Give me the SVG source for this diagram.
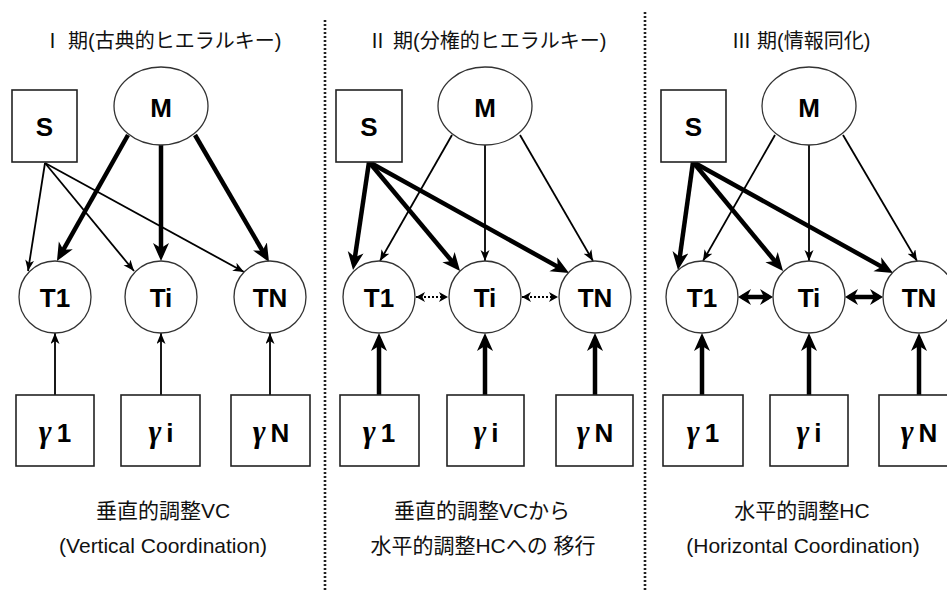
<svg xmlns="http://www.w3.org/2000/svg" width="947" height="590" viewBox="0 0 947 590">
<style>
  .box{fill:#fff;stroke:#222;stroke-width:1.6}
  .ell{fill:#fff;stroke:#333;stroke-width:1.3}
  .lbl{font-family:"Liberation Sans","Noto Sans CJK JP",sans-serif;font-weight:bold;font-size:26px;fill:#000;text-anchor:middle}
  .gam{font-family:"Liberation Serif","DejaVu Serif",serif;font-style:italic;font-weight:bold;font-size:31px}
  .ttl{font-family:"Liberation Sans","Noto Sans CJK JP",sans-serif;font-size:20px;fill:#111;text-anchor:middle}
  .cap{font-family:"Liberation Sans","Noto Sans CJK JP",sans-serif;font-size:21px;fill:#111;text-anchor:middle}
  .thin{stroke:#000;stroke-width:1.8;fill:none;marker-end:url(#aThin)}
  .thick{stroke:#000;stroke-width:4.5;fill:none;marker-end:url(#aThick)}
  .dot{stroke:#000;stroke-width:2;stroke-dasharray:2 2;fill:none;marker-start:url(#aDot);marker-end:url(#aDot)}
  .dbl{stroke:#000;stroke-width:4.5;fill:none;marker-start:url(#aMid);marker-end:url(#aMid)}
  .div{stroke:#222;stroke-width:2.6;stroke-dasharray:2 2;fill:none}
</style>
<defs>
  <marker id="aThin" markerUnits="userSpaceOnUse" markerWidth="12" markerHeight="10" refX="11" refY="4.5" orient="auto">
    <path d="M0,0 L11,4.5 L0,9 L3,4.5 z" fill="#000"/>
  </marker>
  <marker id="aThick" markerUnits="userSpaceOnUse" markerWidth="19" markerHeight="17" refX="12" refY="8" orient="auto">
    <path d="M0,0 L18,8 L0,16 L5,8 z" fill="#000"/>
  </marker>
  <marker id="aMid" markerUnits="userSpaceOnUse" markerWidth="14" markerHeight="17" refX="9" refY="8" orient="auto-start-reverse">
    <path d="M0,0 L13,8 L0,16 L4,8 z" fill="#000"/>
  </marker>
  <marker id="aDot" markerUnits="userSpaceOnUse" markerWidth="10" markerHeight="11" refX="9" refY="5" orient="auto-start-reverse">
    <path d="M0,0 L9,5 L0,10 L2.5,5 z" fill="#000"/>
  </marker>
</defs>
<rect x="0" y="0" width="947" height="590" fill="#fff"/>

<!-- dividers -->
<g id="dividers">
  <line class="div" x1="325" y1="20" x2="325" y2="590"/>
  <line class="div" x1="645" y1="12" x2="645" y2="590"/>
</g>

<!-- titles and captions -->
<g id="texts">
  <text class="ttl" x="162" y="48">Ⅰ 期(古典的ヒエラルキー)</text>
  <text class="ttl" x="487" y="48">Ⅱ 期(分権的ヒエラルキー)</text>
  <text class="ttl" x="801" y="48">Ⅲ 期(情報同化)</text>
  <text class="cap" x="163" y="518">垂直的調整VC</text>
  <text class="cap" x="163" y="553">(Vertical Coordination)</text>
  <text class="cap" x="482" y="518">垂直的調整VCから</text>
  <text class="cap" x="483" y="553">水平的調整HCへの 移行</text>
  <text class="cap" x="802" y="518">水平的調整HC</text>
  <text class="cap" x="803" y="553">(Horizontal Coordination)</text>
</g>

<!-- connectors -->
<g id="connectors">
  <!-- panel 1 -->
  <line class="thin" x1="45" y1="163" x2="28" y2="271"/>
  <line class="thin" x1="45" y1="163" x2="134" y2="271"/>
  <line class="thin" x1="45" y1="163" x2="244" y2="272"/>
  <line class="thick" x1="128" y1="135" x2="59.9" y2="255.8"/>
  <line class="thick" x1="161" y1="145" x2="161" y2="255"/>
  <line class="thick" x1="195" y1="135" x2="266" y2="256.8"/>
  <line class="thin" x1="55" y1="395" x2="55" y2="333"/>
  <line class="thin" x1="161" y1="395" x2="161" y2="333"/>
  <line class="thin" x1="270" y1="395" x2="270" y2="333"/>
  <!-- panel 2 -->
  <line class="thick" x1="369" y1="162" x2="353.9" y2="264.1"/>
  <line class="thick" x1="369" y1="162" x2="456.2" y2="266.4"/>
  <line class="thick" x1="369" y1="162" x2="563.8" y2="270.1"/>
  <line class="thin" x1="452" y1="135" x2="380" y2="261"/>
  <line class="thin" x1="485" y1="145" x2="485" y2="261"/>
  <line class="thin" x1="520" y1="135" x2="593" y2="261"/>
  <line class="thick" x1="379" y1="395" x2="379" y2="339"/>
  <line class="thick" x1="485" y1="395" x2="485" y2="339"/>
  <line class="thick" x1="595" y1="395" x2="595" y2="339"/>
  <line class="dot" x1="416" y1="297" x2="448" y2="297"/>
  <line class="dot" x1="522" y1="297" x2="558" y2="297"/>
  <!-- panel 3 -->
  <line class="thick" x1="693" y1="162" x2="678.8" y2="264.1"/>
  <line class="thick" x1="693" y1="162" x2="779.2" y2="266.4"/>
  <line class="thick" x1="693" y1="162" x2="887.8" y2="270.1"/>
  <line class="thin" x1="775" y1="135" x2="703" y2="261"/>
  <line class="thin" x1="809" y1="145" x2="809" y2="261"/>
  <line class="thin" x1="843" y1="135" x2="917" y2="261"/>
  <line class="thick" x1="702" y1="395" x2="702" y2="339"/>
  <line class="thick" x1="809" y1="395" x2="809" y2="339"/>
  <line class="thick" x1="919" y1="395" x2="919" y2="339"/>
  <line class="dbl" x1="742" y1="297" x2="769" y2="297"/>
  <line class="dbl" x1="849" y1="297" x2="879" y2="297"/>
</g>

<!-- panel 1 nodes -->
<g id="p1-S"><rect class="box" x="12" y="90" width="65" height="72"/><text class="lbl" x="44.5" y="136">S</text></g>
<g id="p1-M"><ellipse class="ell" cx="161" cy="106" rx="47" ry="39"/><text class="lbl" x="161" y="117">M</text></g>
<g id="p1-T1"><circle class="ell" cx="55" cy="297" r="36"/><text class="lbl" x="55" y="307">T1</text></g>
<g id="p1-Ti"><circle class="ell" cx="161" cy="297" r="36"/><text class="lbl" x="161" y="307">Ti</text></g>
<g id="p1-TN"><circle class="ell" cx="270" cy="297" r="36"/><text class="lbl" x="270" y="307">TN</text></g>
<g id="p1-g1"><rect class="box" x="16" y="395" width="78" height="71"/><text class="lbl" x="55" y="442"><tspan class="gam">γ</tspan><tspan dx="5">1</tspan></text></g>
<g id="p1-gi"><rect class="box" x="121" y="395" width="79" height="71"/><text class="lbl" x="161" y="442"><tspan class="gam">γ</tspan><tspan dx="5">i</tspan></text></g>
<g id="p1-gN"><rect class="box" x="231" y="395" width="79" height="71"/><text class="lbl" x="271" y="442"><tspan class="gam">γ</tspan><tspan dx="5">N</tspan></text></g>

<!-- panel 2 nodes -->
<g id="p2-S"><rect class="box" x="336" y="90" width="66" height="72"/><text class="lbl" x="369" y="136">S</text></g>
<g id="p2-M"><ellipse class="ell" cx="485" cy="106" rx="47" ry="39"/><text class="lbl" x="485" y="117">M</text></g>
<g id="p2-T1"><circle class="ell" cx="379" cy="297" r="36"/><text class="lbl" x="379" y="307">T1</text></g>
<g id="p2-Ti"><circle class="ell" cx="485" cy="297" r="36"/><text class="lbl" x="485" y="307">Ti</text></g>
<g id="p2-TN"><circle class="ell" cx="595" cy="297" r="36"/><text class="lbl" x="595" y="307">TN</text></g>
<g id="p2-g1"><rect class="box" x="340" y="395" width="79" height="71"/><text class="lbl" x="379" y="442"><tspan class="gam">γ</tspan><tspan dx="5">1</tspan></text></g>
<g id="p2-gi"><rect class="box" x="447" y="395" width="77" height="71"/><text class="lbl" x="486" y="442"><tspan class="gam">γ</tspan><tspan dx="5">i</tspan></text></g>
<g id="p2-gN"><rect class="box" x="556" y="395" width="77" height="71"/><text class="lbl" x="595" y="442"><tspan class="gam">γ</tspan><tspan dx="5">N</tspan></text></g>

<!-- panel 3 nodes -->
<g id="p3-S"><rect class="box" x="661" y="90" width="65" height="72"/><text class="lbl" x="693.5" y="136">S</text></g>
<g id="p3-M"><ellipse class="ell" cx="809" cy="106" rx="47" ry="39"/><text class="lbl" x="809" y="117">M</text></g>
<g id="p3-T1"><circle class="ell" cx="702" cy="297" r="36"/><text class="lbl" x="702" y="307">T1</text></g>
<g id="p3-Ti"><circle class="ell" cx="809" cy="297" r="36"/><text class="lbl" x="809" y="307">Ti</text></g>
<g id="p3-TN"><circle class="ell" cx="919" cy="297" r="36"/><text class="lbl" x="919" y="307">TN</text></g>
<g id="p3-g1"><rect class="box" x="663" y="395" width="80" height="71"/><text class="lbl" x="703" y="442"><tspan class="gam">γ</tspan><tspan dx="5">1</tspan></text></g>
<g id="p3-gi"><rect class="box" x="770" y="395" width="78" height="71"/><text class="lbl" x="809" y="442"><tspan class="gam">γ</tspan><tspan dx="5">i</tspan></text></g>
<g id="p3-gN"><rect class="box" x="879" y="395" width="79" height="71"/><text class="lbl" x="919" y="442"><tspan class="gam">γ</tspan><tspan dx="5">N</tspan></text></g>
</svg>
